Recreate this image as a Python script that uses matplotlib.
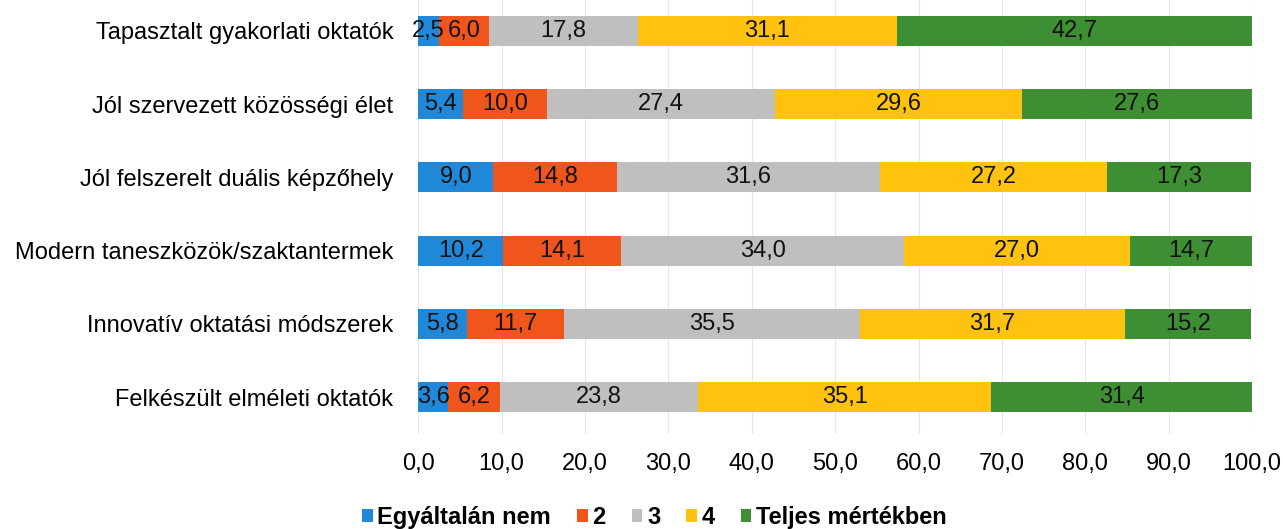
import matplotlib
matplotlib.use("Agg")
import matplotlib.pyplot as plt
import numpy as np

categories = [
    "Tapasztalt gyakorlati oktatók",
    "Jól szervezett közösségi élet",
    "Jól felszerelt duális képzőhely",
    "Modern taneszközök/szaktantermek",
    "Innovatív oktatási módszerek",
    "Felkészült elméleti oktatók",
]
series_names = ["Egyáltalán nem", "2", "3", "4", "Teljes mértékben"]
s1 = [2.5, 5.4, 9.0, 10.2, 5.8, 3.6]
s2 = [6.0, 10.0, 14.8, 14.1, 11.7, 6.2]
s3 = [17.8, 27.4, 31.6, 34.0, 35.5, 23.8]
s4 = [31.1, 29.6, 27.2, 27.0, 31.7, 35.1]
s5 = [42.7, 27.6, 17.3, 14.7, 15.2, 31.4]
xticks = [0, 10, 20, 30, 40, 50, 60, 70, 80, 90, 100]

colors = ["#1f88d8", "#f0561c", "#bfbfbf", "#ffc20e", "#3e8e33"]
series = [s1, s2, s3, s4, s5]

plt.rcParams['font.family'] = ['Liberation Sans', 'DejaVu Sans']
fig = plt.figure(figsize=(12.83, 5.29), dpi=100)
ax = fig.add_axes([0.326, 0.18, 0.650, 0.82])

FS = 17
y = np.arange(len(categories))
left = np.zeros(len(categories))
for name, vals, c in zip(series_names, series, colors):
    vals = np.array(vals)
    ax.barh(y, vals, left=left, height=0.41, color=c, label=name, zorder=3)
    for yi, l, v in zip(y, left, vals):
        ax.text(l + v / 2, yi, f"{v:.1f}".replace(".", ","), ha="center", va="center",
                fontsize=FS, color="#111111", zorder=4)
    left += vals

ax.set_ylim(5.5, -0.42)
ax.set_xlim(0, 100)
ax.set_yticks(y)
ax.set_yticklabels(categories, fontsize=FS)
ax.set_xticks(xticks)
ax.set_xticklabels([f"{t:.1f}".replace(".", ",") for t in xticks], fontsize=FS)
ax.tick_params(axis="both", length=0)
ax.tick_params(axis="x", pad=14)
ax.tick_params(axis="y", pad=18)
ax.grid(axis="x", color="#e6e6e6", linewidth=0.8, zorder=0)
for sp in ax.spines.values():
    sp.set_visible(False)

fig.legend(loc="center", bbox_to_anchor=(0.51, 0.022), ncol=5, frameon=False,
           prop={"weight": "bold", "size": 17}, handlelength=0.45, handleheight=0.45,
           handletextpad=0.2, columnspacing=1.1)

fig.savefig("out.png", dpi=100)
